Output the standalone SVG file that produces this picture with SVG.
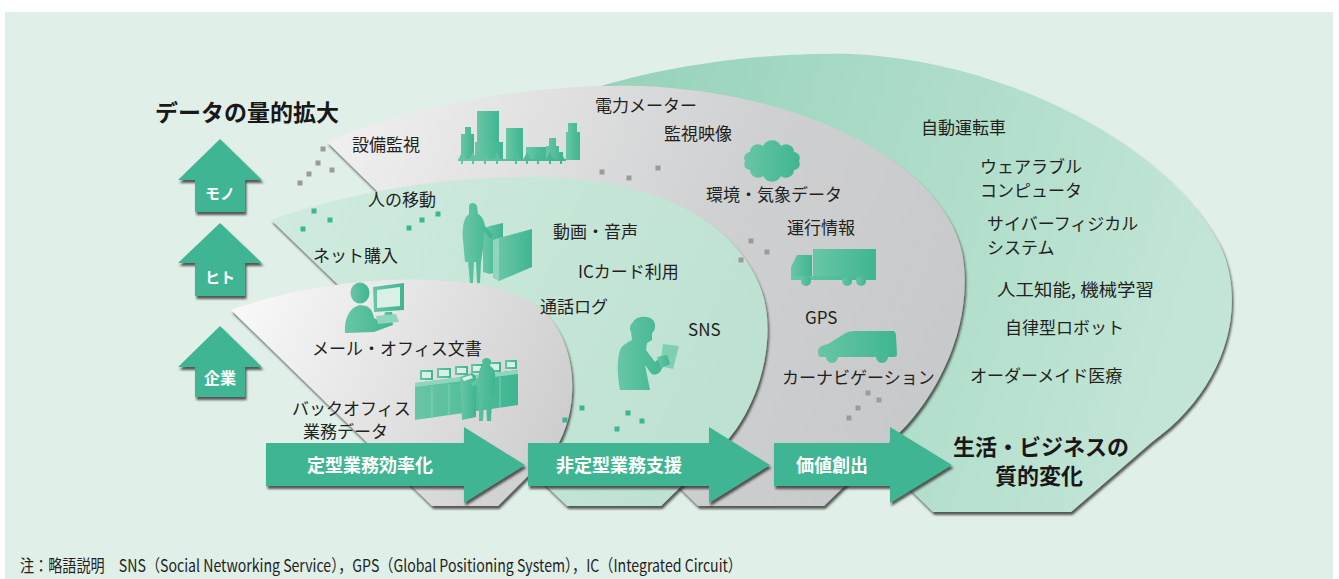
<svg xmlns="http://www.w3.org/2000/svg" width="1339" height="579" viewBox="0 0 1339 579">
  <defs>
    <style>
      .t { font-family: "Noto Sans CJK JP", "Noto Sans", sans-serif; font-size: 17px; fill: #231f20; }
      .tb { font-family: "Noto Sans CJK JP", "Noto Sans", sans-serif; font-weight: bold; fill: #1a1718; }
      .w { font-family: "Noto Sans CJK JP", "Noto Sans", sans-serif; font-weight: bold; fill: #ffffff; text-anchor: middle; }
      .arr { fill: #3fb594; filter: url(#sh); }
      .ico { fill: url(#ico); }
      .scr { fill: #d9f0e7; }
      .gd { fill: #9b9b9b; }
      .gn { fill: #3db594; }
    </style>
    <filter id="sh" x="-10%" y="-10%" width="125%" height="125%">
      <feDropShadow dx="1.5" dy="3" stdDeviation="1.3" flood-color="#2b2b2b" flood-opacity="0.75"/>
    </filter>
    <linearGradient id="g1" x1="0" y1="0.2" x2="1" y2="0.5">
      <stop offset="0" stop-color="#f8f8f8"/>
      <stop offset="1" stop-color="#cfcfd0"/>
    </linearGradient>
    <linearGradient id="g2" x1="0" y1="0" x2="1" y2="0.3">
      <stop offset="0" stop-color="#d0ebdf"/>
      <stop offset="1" stop-color="#bee2d2"/>
    </linearGradient>
    <linearGradient id="g3" x1="0" y1="0.2" x2="1" y2="0.5">
      <stop offset="0" stop-color="#efefef"/>
      <stop offset="0.6" stop-color="#cfd0d1"/>
      <stop offset="1" stop-color="#c8c9ca"/>
    </linearGradient>
    <linearGradient id="g4" x1="0" y1="0" x2="1" y2="0.2">
      <stop offset="0" stop-color="#93d1b8"/>
      <stop offset="1" stop-color="#c2e5d6"/>
    </linearGradient>
    <linearGradient id="ico" x1="0" y1="0" x2="1" y2="0">
      <stop offset="0" stop-color="#68c6a5"/>
      <stop offset="1" stop-color="#3fb592"/>
    </linearGradient>
  </defs>

  <!-- background panel -->
  <rect x="0" y="0" width="1339" height="579" fill="#ffffff"/>
  <rect x="5" y="12" width="1328" height="567" fill="#e0efe8"/>

  <!-- nested data layers, outermost first -->
  <g id="layer-value" filter="url(#sh)">
    <path d="M560,100 C650,66 760,52 850,54 C1000,60 1165,140 1220,245 C1250,310 1222,392 1152,442 L1071,512 L933,512 L880,460 L600,120 Z" fill="url(#g4)"/>
  </g>
  <g id="layer-mono" filter="url(#sh)">
    <path d="M327,142 L698,506 L824,506 L900,432 C940,392 975,320 962,252 C940,160 800,92 640,86 C520,83 400,110 327,142 Z" fill="url(#g3)"/>
  </g>
  <g id="layer-hito" filter="url(#sh)">
    <path d="M271,220 L567,506 L661,506 L722,446 C758,410 778,340 762,292 C738,224 662,180 545,177 C445,175 342,194 271,220 Z" fill="url(#g2)"/>
  </g>
  <g id="layer-kigyo" filter="url(#sh)">
    <path d="M231,310 C320,278 455,266 528,300 C575,325 585,400 556,448 L498,506 L432,506 Z" fill="url(#g1)"/>
  </g>

  <!-- scattered data points -->
  <g id="dots">
    <rect class="gd" x="320.5" y="146.5" width="5" height="5"/>
    <rect class="gd" x="315.5" y="160.5" width="5" height="5"/>
    <rect class="gd" x="329.5" y="167.5" width="5" height="5"/>
    <rect class="gd" x="306.5" y="171.5" width="5" height="5"/>
    <rect class="gd" x="297.5" y="180.5" width="5" height="5"/>
    <rect class="gd" x="599.5" y="169.5" width="5" height="5"/>
    <rect class="gd" x="626.5" y="175.5" width="5" height="5"/>
    <rect class="gd" x="655.5" y="165.5" width="5" height="5"/>
    <rect class="gd" x="748.5" y="238.5" width="5" height="5"/>
    <rect class="gd" x="764.5" y="249.5" width="5" height="5"/>
    <rect class="gd" x="738.5" y="257.5" width="5" height="5"/>
    <rect class="gd" x="865.5" y="390.5" width="5" height="5"/>
    <rect class="gd" x="876.5" y="397.5" width="5" height="5"/>
    <rect class="gd" x="855.5" y="405.5" width="5" height="5"/>
    <rect class="gd" x="846.5" y="415.5" width="5" height="5"/>
    <rect class="gn" x="311.5" y="208.5" width="5" height="5"/>
    <rect class="gn" x="327.5" y="217.5" width="5" height="5"/>
    <rect class="gn" x="300.5" y="226.5" width="5" height="5"/>
    <rect class="gn" x="406.5" y="225.5" width="5" height="5"/>
    <rect class="gn" x="419.5" y="217.5" width="5" height="5"/>
    <rect class="gn" x="435.5" y="211.5" width="5" height="5"/>
    <rect class="gn" x="579.5" y="405.5" width="5" height="5"/>
    <rect class="gn" x="562.5" y="417.5" width="5" height="5"/>
    <rect class="gn" x="625.5" y="410.5" width="5" height="5"/>
    <rect class="gn" x="639.5" y="418.5" width="5" height="5"/>
    <rect class="gn" x="614.5" y="426.5" width="5" height="5"/>
  </g>

  <!-- icons -->
  <g id="icon-buildings" class="ico">
    <path d="M461,160 V134 H465 V127 H471 V134 H474 V160 Z"/>
    <rect x="477" y="111" width="22" height="49"/>
    <rect x="475" y="142" width="28" height="18"/>
    <rect x="506" y="128" width="17" height="32"/>
    <rect x="526" y="147" width="22" height="13"/>
    <path d="M546,160 V146 H549 V138 H556 V146 H559 V152 H563 V160 Z"/>
    <path d="M566,160 V132 H568 V123 H577 V132 H580 V160 Z"/>
    <path d="M462,152 L466,160 H458 Z M473,152 L477,160 H469 Z M485,152 L489,160 H481 Z M497,152 L501,160 H493 Z M516,152 L520,160 H512 Z M527,152 L531,160 H523 Z M538,152 L542,160 H534 Z M550,152 L554,160 H546 Z M561,152 L565,160 H557 Z"/>
    <rect x="458" y="159" width="108" height="2"/>
    <path d="M461,160 h2 v4 h-2 Z M472,160 h2 v4 h-2 Z M484,160 h2 v4 h-2 Z M496,160 h2 v4 h-2 Z M515,160 h2 v4 h-2 Z M526,160 h2 v4 h-2 Z M537,160 h2 v4 h-2 Z M549,160 h2 v4 h-2 Z M560,160 h2 v4 h-2 Z"/>
  </g>

  <g id="icon-cloud" class="ico">
    <path d="M745,161 A6,6 0 0 1 750,152 A8,8 0 0 1 763,146 A10,10 0 0 1 781,146 A8,8 0 0 1 794,152 A6,6 0 0 1 799,161 A6,6 0 0 1 794,170 A8,8 0 0 1 781,176 A10,10 0 0 1 763,176 A8,8 0 0 1 750,170 A6,6 0 0 1 745,161 Z"/>
  </g>

  <g id="icon-truck" class="ico">
    <rect x="813" y="249" width="63" height="28"/>
    <path d="M791,279 V267 L797,255 H812 V279 Z"/>
    <rect x="791" y="276" width="85" height="4"/>
    <circle cx="806" cy="281" r="5"/>
    <circle cx="847" cy="281" r="5"/>
    <circle cx="861" cy="281" r="5"/>
  </g>

  <g id="icon-car" class="ico">
    <path d="M818,352 C818,347 822,345 828,344 L844,334 C847,332 850,331 855,331 L892,331 C895,331 896,333 896,336 L897,354 C897,356 896,357 894,357 L888,357 A6,6 0 0 1 876,357 L838,357 A6,6 0 0 1 826,357 L821,357 C819,357 818,355 818,352 Z"/>
  </g>

  <g id="icon-gate" class="ico">
    <path d="M483,229 L490,226 L503,223 L503,270 L490,274 L483,272 Z"/>
    <path d="M493,240 L499,238 L499,281 L493,278 Z" fill="#8fd6bc"/>
    <path d="M499,238 L532,229 L532,267 L499,281 Z"/>
    <path d="M493,240 L526,231 L532,229 L499,238 Z" fill="#7fcfb2"/>
    <path d="M469,206 C469,202 476,202 477,206 L478,214 C482,216 484,220 485,226 L493,235 L491,239 L484,232 L483,249 L481,262 L480,283 L477,283 L476,262 L474,262 L473,283 L470,283 L468,262 L465,262 L463,240 C462,232 463,222 466,217 L469,214 Z"/>
  </g>

  <g id="icon-desk-worker" class="ico">
    <ellipse cx="360" cy="293" rx="9.5" ry="10.5"/>
    <path d="M345,333 C344,318 350,307 360,305 L366,306 C371,308 373,312 374,318 L380,321 L392,319 L393,325 L374,332 Z"/>
    <path d="M373,287 L404,283 L404,310 L374,312 Z"/>
    <path d="M377,290 L400,287 L400,306 L377,308 Z" class="scr"/>
    <path d="M385,312 L392,312 L393,316 L384,316 Z"/>
    <path d="M376,316 L396,314 L399,322 L378,324 Z" fill="#8fd6bc"/>
  </g>

  <g id="icon-control-room" class="ico">
    <path d="M415,383 L518,370 L518,405 L415,420 Z"/>
    <path d="M415,383 L518,370 L518,374 L415,387 Z" fill="#8fd6bc"/>
    <path d="M432,386 V418 M449,384 V416 M500,377 V408" stroke="#8fd6bc" stroke-width="0.8"/>
    <rect x="420" y="370" width="13" height="10"/><rect x="422" y="372" width="9" height="6" class="scr"/>
    <rect x="437" y="368" width="14" height="10"/><rect x="439" y="370" width="10" height="6" class="scr"/>
    <rect x="455" y="366" width="13" height="9"/><rect x="457" y="368" width="9" height="5" class="scr"/>
    <rect x="471" y="364" width="12" height="9"/><rect x="473" y="366" width="8" height="5" class="scr"/>
    <rect x="488" y="362" width="13" height="10"/><rect x="490" y="364" width="9" height="6" class="scr"/>
    <rect x="505" y="360" width="12" height="9"/><rect x="507" y="362" width="8" height="5" class="scr"/>
    <path d="M460,377 L472,373 L476,376 L476,417 L462,420 Z"/>
    <path d="M462,378 L471,375 L473,378 L464,381 Z" class="scr"/>
    <path d="M482,361 C483,357 490,357 491,361 L490,366 C494,368 496,372 495,380 L494,396 L492,398 L491,421 L487,421 L486,400 L484,400 L483,421 L479,421 L479,398 L477,385 L472,386 L471,383 L478,378 L480,368 L483,366 Z"/>
  </g>

  <g id="icon-phone-user" class="ico">
    <path d="M633,322 C636,316 648,315 653,320 C656,324 656,330 652,333 L652,340 L647,343 L646,350 L655,362 L661,356 L667,360 L660,372 C656,376 652,375 650,372 L645,365 L650,390 L620,390 C617,375 617,360 620,350 C622,345 628,342 632,340 L631,332 C629,328 630,325 633,322 Z"/>
    <path d="M663,344 L679,346 L673,369 L660,366 Z" fill="#7fd0b3"/>
    <path d="M657,357 L667,355 L670,364 L661,368 Z"/>
  </g>

  <!-- category arrows (vertical) -->
  <g id="arrow-mono">
    <path class="arr" d="M220,139 L262,180 L245,180 L245,212 L195,212 L195,180 L178,180 Z"/>
    <text class="w" x="220" y="199" font-size="15">モノ</text>
  </g>
  <g id="arrow-hito">
    <path class="arr" d="M220,223 L262,263 L245,263 L245,296 L195,296 L195,263 L178,263 Z"/>
    <text class="w" x="220" y="283" font-size="15">ヒト</text>
  </g>
  <g id="arrow-kigyo">
    <path class="arr" d="M220,326 L262,367 L245,367 L245,397 L195,397 L195,367 L178,367 Z"/>
    <text class="w" x="220" y="384" font-size="16">企業</text>
  </g>

  <!-- stage arrows (horizontal) -->
  <g id="connectors">
    <path class="arr" d="M266,443 L464,443 L464,427 L525,465 L464,503 L464,486 L266,486 Z"/>
    <path class="arr" d="M528,443 L709,443 L709,427 L770,465 L709,503 L709,486 L528,486 Z"/>
    <path class="arr" d="M774,443 L890,443 L890,427 L952,465 L890,503 L890,486 L774,486 Z"/>
  </g>
  <g id="stage-labels">
    <text class="w" x="370" y="472" font-size="18">定型業務効率化</text>
    <text class="w" x="619" y="472" font-size="18">非定型業務支援</text>
    <text class="w" x="832" y="472" font-size="18">価値創出</text>
  </g>

  <!-- titles -->
  <text class="tb" x="155" y="121" font-size="23">データの量的拡大</text>
  <text class="tb" x="953" y="455" font-size="22">生活・ビジネスの</text>
  <text class="tb" x="995" y="484" font-size="22">質的変化</text>

  <!-- item labels -->
  <g id="labels-mono">
    <text class="t" x="352" y="151" font-size="18">設備監視</text>
    <text class="t" x="595" y="112">電力メーター</text>
    <text class="t" x="664" y="140" font-size="18">監視映像</text>
    <text class="t" x="706" y="201" font-size="17.5">環境・気象データ</text>
    <text class="t" x="787" y="234" font-size="18">運行情報</text>
    <text class="t" x="805" y="324" font-size="18">GPS</text>
    <text class="t" x="782" y="384">カーナビゲーション</text>
  </g>
  <g id="labels-hito">
    <text class="t" x="368" y="206" font-size="18">人の移動</text>
    <text class="t" x="313" y="262">ネット購入</text>
    <text class="t" x="553" y="238" font-size="18">動画・音声</text>
    <text class="t" x="578" y="278" font-size="18">ICカード利用</text>
    <text class="t" x="540" y="313" font-size="18">通話ログ</text>
    <text class="t" x="688" y="336" font-size="18">SNS</text>
  </g>
  <g id="labels-kigyo">
    <text class="t" x="312" y="355" font-size="16.5">メール・オフィス文書</text>
    <text class="t" x="292" y="415" font-size="16">バックオフィス</text>
    <text class="t" x="303" y="438" font-size="17">業務データ</text>
  </g>
  <g id="labels-value">
    <text class="t" x="921" y="134" font-size="18.5">自動運転車</text>
    <text class="t" x="980" y="173" font-size="16">ウェアラブル</text>
    <text class="t" x="980" y="197" font-size="16">コンピュータ</text>
    <text class="t" x="987" y="230" font-size="16">サイバーフィジカル</text>
    <text class="t" x="987" y="254" font-size="16">システム</text>
    <text class="t" x="997" y="296" font-size="17.5" textLength="157" lengthAdjust="spacingAndGlyphs">人工知能, 機械学習</text>
    <text class="t" x="1005" y="334" font-size="16.5">自律型ロボット</text>
    <text class="t" x="970" y="382" font-size="16.5">オーダーメイド医療</text>
  </g>

  <!-- footnote -->
  <text class="t" x="20" y="572" font-size="13" textLength="722" lengthAdjust="spacingAndGlyphs">注：略語説明　SNS（Social Networking Service），GPS（Global Positioning System），IC（Integrated Circuit）</text>
</svg>
